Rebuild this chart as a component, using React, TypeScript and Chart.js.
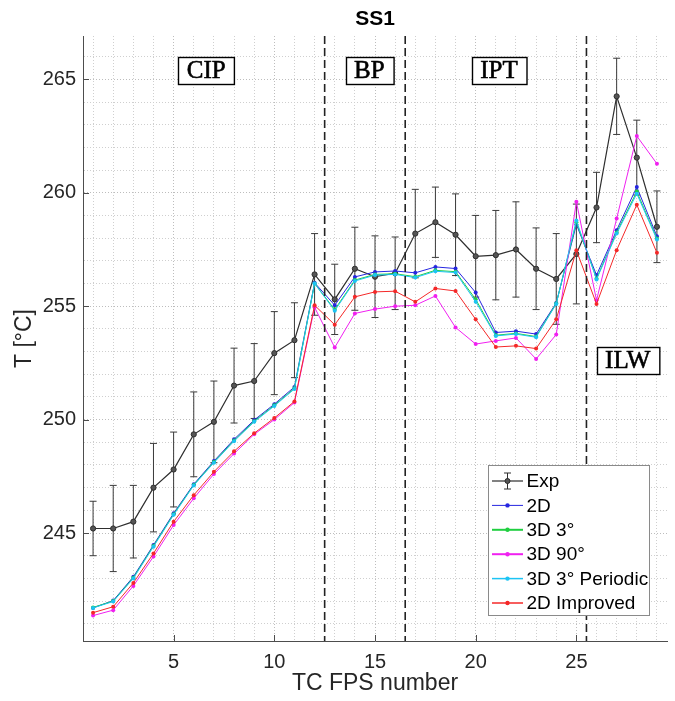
import React, { useEffect, useRef } from 'react';
import { Chart, registerables } from 'chart.js';

Chart.register(...registerables);

// ---------------- data ----------------
const tcNumbers = [1, 2, 3, 4, 5, 6, 7, 8, 9, 10, 11, 12, 13, 14, 15, 16, 17, 18, 19, 20, 21, 22, 23, 24, 25, 26, 27, 28, 29];

const expT = [245.2, 245.2, 245.5, 247.0, 247.8, 249.35, 249.9, 251.5, 251.7, 252.93, 253.5, 256.4, 255.3, 256.65, 256.3, 256.45, 258.2, 258.7, 258.15, 257.2, 257.25, 257.5, 256.65, 256.2, 257.3, 259.35, 264.25, 261.55, 258.5];
const expErr = [1.2, 1.9, 1.6, 1.95, 1.65, 1.87, 1.8, 1.65, 1.65, 1.83, 1.65, 1.8, 1.55, 1.83, 1.8, 1.6, 1.95, 1.55, 1.8, 1.8, 1.97, 2.1, 1.8, 2.0, 2.2, 1.55, 1.68, 1.65, 1.58];

const t2D = [241.7, 242.02, 243.07, 244.47, 245.87, 247.15, 248.17, 249.13, 249.98, 250.68, 251.44, 256.03, 255.04, 256.29, 256.51, 256.55, 256.47, 256.73, 256.66, 255.6, 253.84, 253.9, 253.77, 255.14, 258.6, 256.37, 258.35, 260.25, 258.08];
const t3D3 = [241.72, 242.0, 243.03, 244.43, 245.83, 247.12, 248.13, 249.08, 249.93, 250.63, 251.38, 256.0, 254.85, 256.15, 256.4, 256.43, 256.3, 256.58, 256.52, 255.3, 253.72, 253.8, 253.66, 255.12, 258.7, 256.22, 258.25, 260.05, 257.98];
const t3D90 = [241.36, 241.6, 242.67, 243.96, 245.35, 246.53, 247.6, 248.5, 249.35, 250.0, 250.75, 254.95, 253.18, 254.68, 254.87, 255.0, 255.04, 255.45, 254.06, 253.33, 253.47, 253.6, 252.67, 253.75, 259.6, 255.26, 258.86, 262.5, 261.28];
const t3D3Periodic = [241.7, 241.98, 243.0, 244.4, 245.8, 247.1, 248.1, 249.05, 249.9, 250.6, 251.35, 256.0, 254.8, 256.11, 256.37, 256.4, 256.26, 256.54, 256.48, 255.2, 253.69, 253.77, 253.63, 255.1, 258.78, 256.18, 258.2, 259.96, 257.94];
const t2DImproved = [241.49, 241.75, 242.8, 244.1, 245.5, 246.67, 247.7, 248.6, 249.4, 250.07, 250.8, 255.04, 254.18, 255.41, 255.63, 255.66, 255.19, 255.78, 255.67, 254.42, 253.2, 253.25, 253.13, 254.42, 257.46, 255.1, 257.47, 259.47, 257.35];

const seriesNames = ['Exp', '2D', '3D 3°', '3D 90°', '3D 3° Periodic', '2D Improved'];

const xGridValues = [1, 2, 3, 4, 5, 6, 7, 8, 9, 10, 11, 12, 13, 14, 15, 16, 17, 18, 19, 20, 21, 22, 23, 24, 25, 26, 27, 28, 29];
const yGridValues = [241, 242, 243, 244, 245, 246, 247, 248, 249, 250, 251, 252, 253, 254, 255, 256, 257, 258, 259, 260, 261, 262, 263, 264, 265, 266];
const xMajorTicks = [5, 10, 15, 20, 25];
const yMajorTicks = [245, 250, 255, 260, 265];

const regionBoundaries = [12.5, 16.5, 25.5];
const regionLabels = ['CIP', 'BP', 'IPT', 'ILW'];
const regionLabelX = [6.62, 14.72, 21.16, 27.55];
const regionLabelY = [265.41, 265.41, 265.41, 252.61];

const X_MIN = 0.5;
const X_MAX = 29.5;
const Y_MIN = 240.24;
const Y_MAX = 266.91;

// ---------------- styles ----------------
const SANS = '"Liberation Sans", Arial, Helvetica, sans-serif';
const SERIF = '"Liberation Serif", "Times New Roman", serif';
const TEXT = '#262626';
const colors = ['#2e2e2e', '#2626e0', '#20cf40', '#f020f0', '#1cc4f4', '#f42828'];
const legendLineWidths = [1.2, 1, 2, 2, 1.5, 1.5];

const pts = (vals: number[]) => tcNumbers.map((t, i) => ({ x: t, y: vals[i] }));

const overlayPlugin = {
  id: 'overlay',
  beforeDatasetsDraw(chart: any) {
    const { ctx, scales } = chart;
    const x = scales.x;
    const y = scales.y;
    ctx.save();
    ctx.strokeStyle = '#3a3a3a';
    ctx.lineWidth = 1;
    tcNumbers.forEach((t, i) => {
      const px = x.getPixelForValue(t);
      const top = y.getPixelForValue(expT[i] + expErr[i]);
      const bot = y.getPixelForValue(expT[i] - expErr[i]);
      ctx.beginPath();
      ctx.moveTo(px, top);
      ctx.lineTo(px, bot);
      ctx.moveTo(px - 3.5, top);
      ctx.lineTo(px + 3.5, top);
      ctx.moveTo(px - 3.5, bot);
      ctx.lineTo(px + 3.5, bot);
      ctx.stroke();
    });
    ctx.restore();
  },
  afterDatasetsDraw(chart: any) {
    const { ctx, scales, chartArea } = chart;
    const x = scales.x;
    const y = scales.y;
    ctx.save();
    // dashed region boundaries
    ctx.strokeStyle = '#222';
    ctx.lineWidth = 1.6;
    ctx.setLineDash([8, 4]);
    regionBoundaries.forEach((b) => {
      const px = x.getPixelForValue(b);
      ctx.beginPath();
      ctx.moveTo(px, chartArea.top);
      ctx.lineTo(px, chartArea.bottom);
      ctx.stroke();
    });
    ctx.setLineDash([]);

    // inward tick marks
    ctx.strokeStyle = '#4d4d4d';
    ctx.lineWidth = 1;
    xMajorTicks.forEach((v) => {
      const px = Math.round(x.getPixelForValue(v)) + 0.5;
      ctx.beginPath();
      ctx.moveTo(px, chartArea.bottom);
      ctx.lineTo(px, chartArea.bottom - 6);
      ctx.stroke();
    });
    yMajorTicks.forEach((v) => {
      const py = Math.round(y.getPixelForValue(v)) + 0.5;
      ctx.beginPath();
      ctx.moveTo(chartArea.left, py);
      ctx.lineTo(chartArea.left + 6, py);
      ctx.stroke();
    });

    // region label boxes
    ctx.font = `25px ${SERIF}`;
    ctx.textAlign = 'center';
    ctx.textBaseline = 'middle';
    regionLabels.forEach((label, i) => {
      const cx = x.getPixelForValue(regionLabelX[i]);
      const cy = y.getPixelForValue(regionLabelY[i]);
      const w = ctx.measureText(label).width + 17;
      const h = 27;
      const lx = Math.round(cx - w / 2) + 0.5;
      const ty = Math.round(cy - h / 2) + 0.5;
      ctx.fillStyle = '#fff';
      ctx.fillRect(lx, ty, w, h);
      ctx.strokeStyle = '#000';
      ctx.lineWidth = 1.4;
      ctx.strokeRect(lx, ty, w, h);
      ctx.fillStyle = '#000';
      ctx.fillText(label, cx, cy + 1);
      ctx.lineWidth = 0.6;
      ctx.strokeText(label, cx, cy + 1);
    });

    // legend
    const lw = 161;
    const lh = 150;
    const lx = Math.round(chartArea.right - 18 - lw) + 0.5;
    const ly = Math.round(chartArea.bottom - 26 - lh) + 0.5;
    ctx.fillStyle = '#fff';
    ctx.fillRect(lx, ly, lw, lh);
    ctx.strokeStyle = '#8a8a8a';
    ctx.lineWidth = 1;
    ctx.strokeRect(lx, ly, lw, lh);
    ctx.font = `19px ${SANS}`;
    ctx.textAlign = 'left';
    ctx.textBaseline = 'middle';
    seriesNames.forEach((name, i) => {
      const cy = ly + 15.5 + i * 24.4;
      const c = colors[i];
      ctx.strokeStyle = c;
      ctx.lineWidth = legendLineWidths[i];
      ctx.beginPath();
      ctx.moveTo(lx + 3.5, cy);
      ctx.lineTo(lx + 34.5, cy);
      ctx.stroke();
      const mx = lx + 19;
      if (i === 0) {
        ctx.lineWidth = 1;
        ctx.beginPath();
        ctx.moveTo(mx, cy - 8);
        ctx.lineTo(mx, cy + 8);
        ctx.moveTo(mx - 3.5, cy - 8);
        ctx.lineTo(mx + 3.5, cy - 8);
        ctx.moveTo(mx - 3.5, cy + 8);
        ctx.lineTo(mx + 3.5, cy + 8);
        ctx.stroke();
        ctx.fillStyle = '#555';
        ctx.beginPath();
        ctx.arc(mx, cy, 2.5, 0, Math.PI * 2);
        ctx.fill();
        ctx.stroke();
      } else {
        ctx.fillStyle = c;
        ctx.beginPath();
        ctx.arc(mx, cy, 2.2, 0, Math.PI * 2);
        ctx.fill();
      }
      ctx.fillStyle = '#000';
      ctx.fillText(name, lx + 38, cy + 1);
    });

    ctx.restore();
  },
  afterDraw(chart: any) {
    const { ctx, chartArea } = chart;
    ctx.save();
    ctx.font = `bold 21px ${SANS}`;
    ctx.fillStyle = '#000';
    ctx.textAlign = 'center';
    ctx.textBaseline = 'middle';
    ctx.fillText('SS1', (chartArea.left + chartArea.right) / 2, 19);
    ctx.restore();
  },
};

export default function App() {
  const canvasRef = useRef<HTMLCanvasElement | null>(null);

  useEffect(() => {
    const canvas = canvasRef.current;
    if (!canvas) return;
    const gridColor = (ctx: any) => {
      const v = ctx.tick ? ctx.tick.value : 0;
      return v % 5 === 0 ? '#bdbdbd' : '#cfcfcf';
    };
    const datasets = [
      { label: seriesNames[0], data: pts(expT), borderColor: colors[0], backgroundColor: '#555', borderWidth: 1.2, pointRadius: 2.6, pointBorderWidth: 1, pointBorderColor: '#2e2e2e', order: 5 },
      { label: seriesNames[1], data: pts(t2D), borderColor: colors[1], backgroundColor: colors[1], borderWidth: 1, pointRadius: 2, pointBorderWidth: 0, order: 4 },
      { label: seriesNames[2], data: pts(t3D3), borderColor: colors[2], backgroundColor: colors[2], borderWidth: 1, pointRadius: 2, pointBorderWidth: 0, order: 3 },
      { label: seriesNames[3], data: pts(t3D90), borderColor: colors[3], backgroundColor: colors[3], borderWidth: 1, pointRadius: 2, pointBorderWidth: 0, order: 2 },
      { label: seriesNames[4], data: pts(t3D3Periodic), borderColor: colors[4], backgroundColor: colors[4], borderWidth: 1, pointRadius: 2, pointBorderWidth: 0, order: 1 },
      { label: seriesNames[5], data: pts(t2DImproved), borderColor: colors[5], backgroundColor: colors[5], borderWidth: 1, pointRadius: 2, pointBorderWidth: 0, order: 0 },
    ];
    const chart = new Chart(canvas, {
      type: 'line',
      data: { datasets: datasets as any },
      plugins: [overlayPlugin as any],
      options: {
        responsive: false,
        animation: false,
        layout: { padding: { top: 36, right: 8, left: 0, bottom: 0 } },
        elements: { line: { tension: 0 } },
        plugins: {
          legend: { display: false },
          tooltip: { enabled: false },
          title: { display: false },
        },
        scales: {
          x: {
            type: 'linear',
            min: X_MIN,
            max: X_MAX,
            afterBuildTicks: (s: any) => {
              s.ticks = xGridValues.map((v) => ({ value: v }));
            },
            afterFit: (s: any) => {
              s.height = 60;
            },
            ticks: {
              autoSkip: false,
              maxRotation: 0,
              padding: 9,
              color: TEXT,
              font: { family: SANS, size: 20 },
              callback: (v: any) => (xMajorTicks.includes(Number(v)) ? String(v) : ''),
            },
            grid: { color: gridColor, lineWidth: 1, drawTicks: false },
            border: { display: true, color: '#4d4d4d', width: 1, dash: [1, 2] },
            title: {
              display: true,
              text: 'TC FPS number',
              color: TEXT,
              font: { family: SANS, size: 23 },
              padding: { top: 0, bottom: 4 },
            },
          },
          y: {
            type: 'linear',
            min: Y_MIN,
            max: Y_MAX,
            afterBuildTicks: (s: any) => {
              s.ticks = yGridValues.map((v) => ({ value: v }));
            },
            afterFit: (s: any) => {
              s.width = 83;
            },
            ticks: {
              autoSkip: false,
              padding: 7,
              color: TEXT,
              font: { family: SANS, size: 20 },
              callback: (v: any) => (yMajorTicks.includes(Number(v)) ? String(v) : ''),
            },
            grid: { color: gridColor, lineWidth: 1, drawTicks: false },
            border: { display: true, color: '#4d4d4d', width: 1, dash: [1, 2] },
            title: {
              display: true,
              text: 'T [°C]',
              color: TEXT,
              font: { family: SANS, size: 23 },
              padding: { top: 11, bottom: 0 },
            },
          },
        },
      } as any,
    });
    return () => chart.destroy();
  }, []);

  return (
    <div style={{ position: 'absolute', left: 0, top: 0, width: 675, height: 701, background: '#fff' }}>
      <canvas ref={canvasRef} width={675} height={701} style={{ display: 'block', width: 675, height: 701 }} />
    </div>
  );
}
